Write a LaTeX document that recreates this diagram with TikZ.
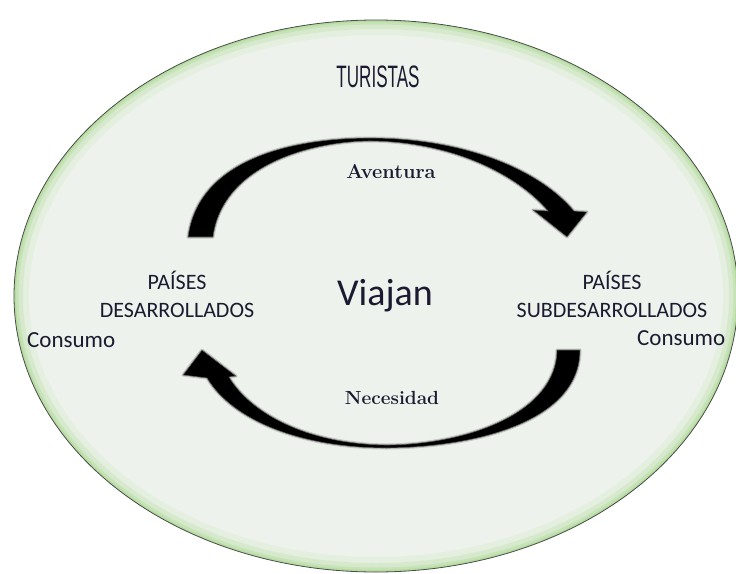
\documentclass[tikz,border=0pt]{standalone}
\usepackage{fontspec}
\newfontfamily\calib{Carlito}
\newfontfamily\condensed[FakeStretch=0.55]{Liberation Sans}
\definecolor{bgc}{HTML}{EDF3EC}
\definecolor{glowc}{HTML}{A9D88E}
\definecolor{txt}{HTML}{1C1A30}
\tikzset{
  arrowshape/.style={fill=black, draw=black!60, line width=0.6pt},
  arrowsoft/.style={draw=black, opacity=0.18, line width=3pt, line join=round},
  lbl/.style={text=txt, inner sep=0pt, align=center},
  country/.style={lbl, font=\calib\fontsize{22}{28}\selectfont},
  cons/.style={lbl, font=\calib\fontsize{23}{26}\selectfont, anchor=west},
  verb/.style={lbl, font=\bfseries\fontsize{20}{22}\selectfont}
}
\begin{document}
\begin{tikzpicture}[x=1pt,y=-1pt]
\useasboundingbox (0,0) rectangle (736,573);
\fill[white] (0,0) rectangle (736,573);
% outer ellipse with inner green glow
\fill[bgc] (376,296) ellipse [x radius=362, y radius=276];
\begin{scope}
  \clip (376,296) ellipse [x radius=362, y radius=276];
  \draw[glowc, opacity=0.12, line width=30pt] (376,296) ellipse [x radius=362, y radius=276];
  \draw[glowc, opacity=0.22, line width=18pt] (376,296) ellipse [x radius=362, y radius=276];
  \draw[glowc, opacity=0.35, line width=9pt] (376,296) ellipse [x radius=362, y radius=276];
  \draw[glowc, opacity=0.55, line width=4pt] (376,296) ellipse [x radius=362, y radius=276];
\end{scope}
\draw[black!70, line width=0.8pt] (376,296) ellipse [x radius=362, y radius=276];
% top arrow
\path[arrowsoft]
  (188,237) .. controls (198,160) and (290,138) .. (370,138)
  .. controls (465,138) and (540,170) .. (574,211)
  -- (587,212) -- (567,237) -- (533,210) -- (548,211)
  .. controls (518,176) and (455,142) .. (370,141)
  .. controls (305,142) and (222,168) .. (213,237) -- cycle;
\path[arrowshape]
  (188,237) .. controls (198,160) and (290,138) .. (370,138)
  .. controls (465,138) and (540,170) .. (574,211)
  -- (587,212) -- (567,237) -- (533,210) -- (548,211)
  .. controls (518,176) and (455,142) .. (370,141)
  .. controls (305,142) and (222,168) .. (213,237) -- cycle;
% bottom arrow
\path[arrowsoft]
  (580,350) .. controls (580,420) and (480,447) .. (387,448)
  .. controls (300,448) and (232,420) .. (207,378)
  -- (183,375) -- (202,350) -- (236,376) -- (229,377)
  .. controls (250,412) and (305,444) .. (387,445)
  .. controls (470,444) and (556,412) .. (557,350) -- cycle;
\path[arrowshape]
  (580,350) .. controls (580,420) and (480,447) .. (387,448)
  .. controls (300,448) and (232,420) .. (207,378)
  -- (183,375) -- (202,350) -- (236,376) -- (229,377)
  .. controls (250,412) and (305,444) .. (387,445)
  .. controls (470,444) and (556,412) .. (557,350) -- cycle;
% texts
\node[lbl, font=\condensed\fontsize{31}{32}\selectfont] (tur) at (378,77) {TURISTAS};
\node[verb] (av) at (391,172) {Aventura};
\node[verb, font=\bfseries\fontsize{19}{22}\selectfont] (ne) at (392,398) {Necesidad};
\node[lbl, font=\calib\fontsize{38}{40}\selectfont] (via) at (385,296) {Viajan};
\node[country] (pd) at (177,294) {PAÍSES\\DESARROLLADOS};
\node[country] (ps) at (612,294) {PAÍSES\\SUBDESARROLLADOS};
\node[cons] (c1) at (27,340) {Consumo};
\node[cons] (c2) at (637,338) {Consumo};
\end{tikzpicture}
\end{document}
